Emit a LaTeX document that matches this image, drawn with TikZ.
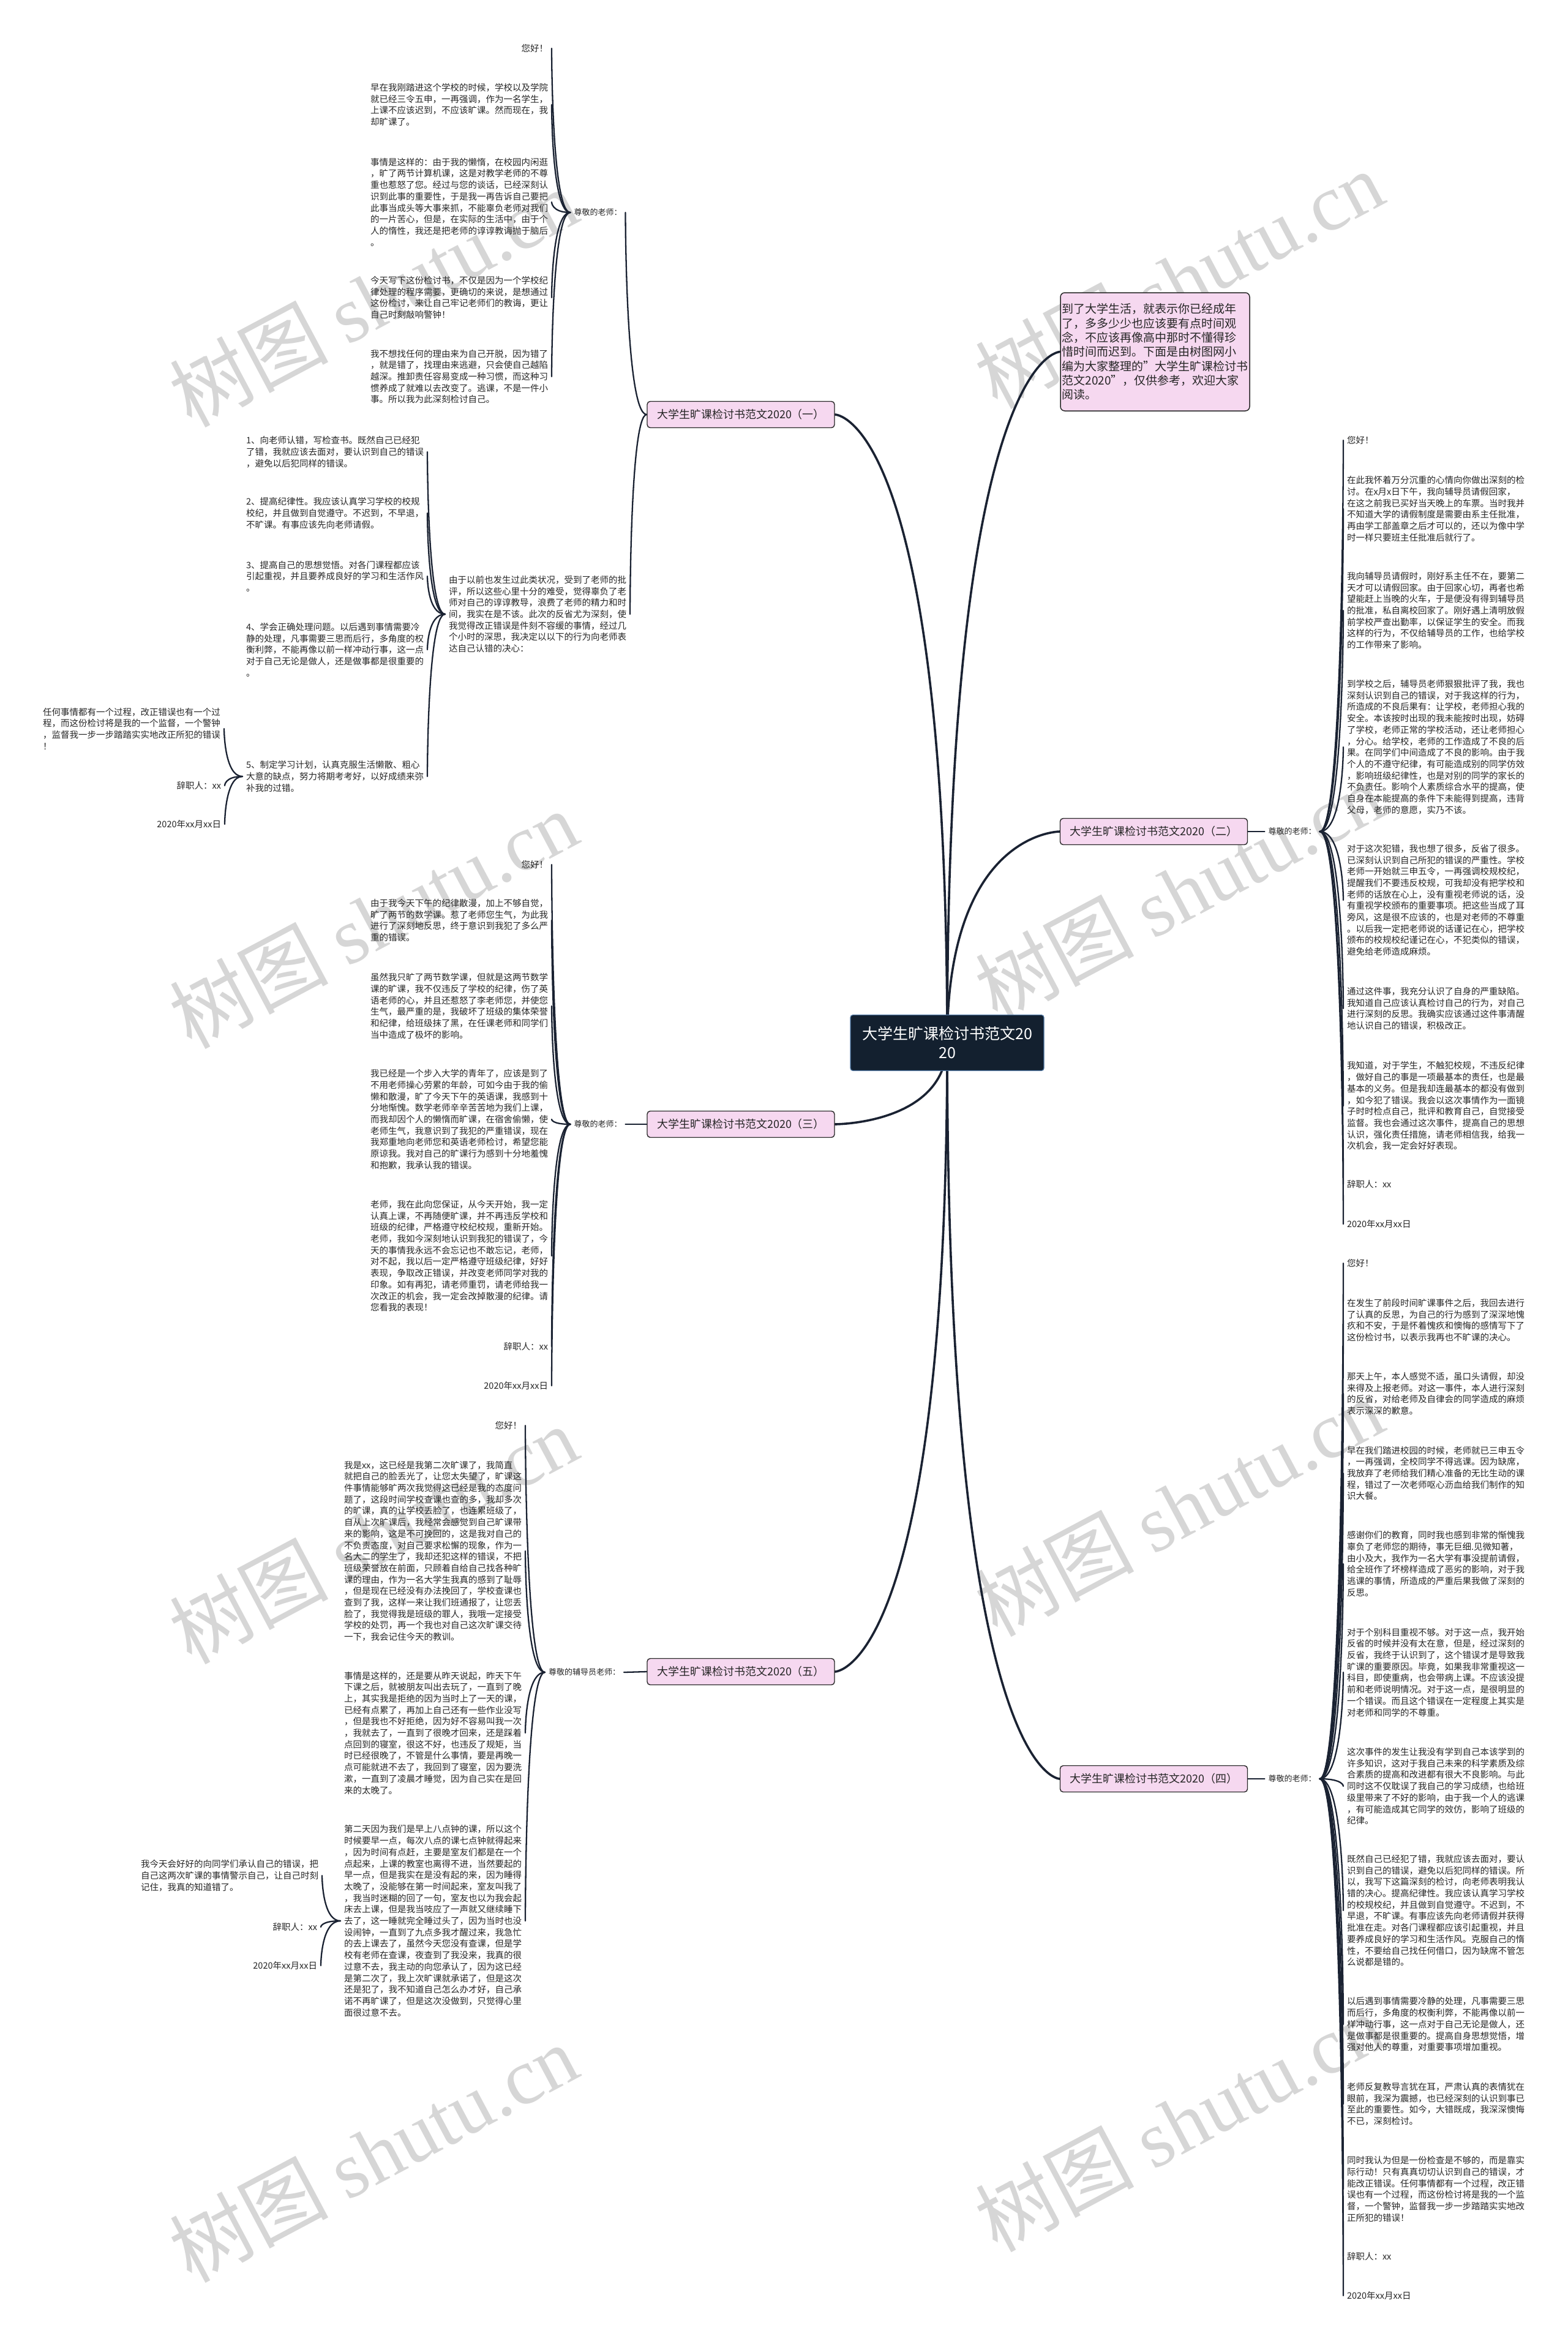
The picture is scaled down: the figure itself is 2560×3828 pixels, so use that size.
\documentclass[tikz,border=0pt]{standalone}
\usepackage{fontspec}
\setmainfont{Noto Sans CJK SC}
\newfontfamily\wmlat{Liberation Serif}
\usetikzlibrary{backgrounds}
\definecolor{lc}{RGB}{26,34,50}
\definecolor{pk}{RGB}{246,216,240}
\definecolor{bd}{RGB}{40,40,40}
\definecolor{tc}{RGB}{38,38,38}
\definecolor{ctrf}{RGB}{19,32,47}
\definecolor{ctrd}{RGB}{80,120,165}
\definecolor{wmc}{RGB}{214,214,214}
\newcommand\lfnt{\fontsize{14.5}{18.7}\selectfont}
\newcommand\labfnt{\fontsize{13}{15}\selectfont}
\newcommand\brfnt{\fontsize{18}{22}\selectfont}
\begin{document}
\begin{tikzpicture}[x=1pt,y=-1pt,
  leafnode/.style={font=\lfnt, text=tc, align=left, inner sep=0pt, outer xsep=6pt},
  labnode/.style={font=\labfnt, text=tc, inner sep=0pt, outer xsep=6pt},
  brbox/.style={draw=bd, fill=pk, line width=1.4pt, rounded corners=5pt, minimum width=306pt, minimum height=43pt, inner sep=0pt, font=\brfnt, text=tc},
  ctrbox/.style={draw=ctrd, fill=ctrf, line width=1.2pt, rounded corners=4pt, minimum width=316pt, minimum height=91pt, inner sep=0pt, align=center, text=white, font=\fontsize{25}{31}\selectfont},
  introbox/.style={draw=bd, fill=pk, line width=1.5pt, rounded corners=7pt, minimum width=309pt, minimum height=193pt, inner sep=0pt, align=left, text=tc, font=\fontsize{19}{23.3}\selectfont},
  wmark/.style={anchor=base west, rotate=28, text=wmc, inner sep=0pt, font=\fontsize{130}{130}\selectfont},
  mainln/.style={draw=lc, line width=3.6pt, line cap=round},
  subln/.style={draw=lc, line width=2.3pt, line cap=round}]
\useasboundingbox (0,0) rectangle (2560,3828);

% ---------- centre and first level ----------
\node[ctrbox] (c) at (1547,1703) {大学生旷课检讨书范文20\\20};
\node[introbox] (intro) at (1886.5,574.5) {到了大学生活，就表示你已经成年\\了，多多少少也应该要有点时间观\\念，不应该再像高中那时不懂得珍\\惜时间而迟到。下面是由树图网小\\编为大家整理的"大学生旷课检讨书\\范文2020"，仅供参考，欢迎大家\\阅读。};
\node[brbox] (b1) at (1210,677) {大学生旷课检讨书范文2020（一）};
\node[brbox] (b2) at (1884.5,1358) {大学生旷课检讨书范文2020（二）};
\node[brbox] (b3) at (1210,1836) {大学生旷课检讨书范文2020（三）};
\node[brbox] (b5) at (1210,2730) {大学生旷课检讨书范文2020（五）};
\node[brbox] (b4) at (1884.5,2905) {大学生旷课检讨书范文2020（四）};

% ---------- branch (一) ----------
\node[labnode] (l1) at (976.5,347) {尊敬的老师：};
\node[leafnode,anchor=east] (a0) at (901,79) {您好！};
\node[leafnode,anchor=west] (a1) at (599,171) {早在我刚踏进这个学校的时候，学校以及学院\\就已经三令五申，一再强调，作为一名学生，\\上课不应该迟到，不应该旷课。然而现在，我\\却旷课了。};
\node[leafnode,anchor=west] (a2) at (599,330) {事情是这样的：由于我的懒惰，在校园内闲逛\\，旷了两节计算机课，这是对教学老师的不尊\\重也惹怒了您。经过与您的谈话，已经深刻认\\识到此事的重要性，于是我一再告诉自己要把\\此事当成头等大事来抓，不能辜负老师对我们\\的一片苦心，但是，在实际的生活中，由于个\\人的惰性，我还是把老师的谆谆教诲抛于脑后\\。};
\node[leafnode,anchor=west] (a3) at (599,486) {今天写下这份检讨书，不仅是因为一个学校纪\\律处理的程序需要，更确切的来说，是想通过\\这份检讨，来让自己牢记老师们的教诲，更让\\自己时刻敲响警钟！};
\node[leafnode,anchor=west] (a4) at (599,615) {我不想找任何的理由来为自己开脱，因为错了\\，就是错了，找理由来逃避，只会使自己越陷\\越深。推卸责任容易变成一种习惯，而这种习\\惯养成了就难以去改变了。逃课，不是一件小\\事。所以我为此深刻检讨自己。};
\node[leafnode,anchor=west] (p1) at (727,1003) {由于以前也发生过此类状况，受到了老师的批\\评，所以这些心里十分的难受，觉得辜负了老\\师对自己的谆谆教导，浪费了老师的精力和时\\间，我实在是不该。此次的反省尤为深刻，使\\我觉得改正错误是件刻不容缓的事情，经过几\\个小时的深思，我决定以以下的行为向老师表\\达自己认错的决心：};
\node[leafnode,anchor=west] (q1) at (396,738) {1、向老师认错，写检查书。既然自己已经犯\\了错，我就应该去面对，要认识到自己的错误\\，避免以后犯同样的错误。};
\node[leafnode,anchor=west] (q2) at (396,838) {2、提高纪律性。我应该认真学习学校的校规\\校纪，并且做到自觉遵守。不迟到，不早退，\\不旷课。有事应该先向老师请假。};
\node[leafnode,anchor=west] (q3) at (396,941) {3、提高自己的思想觉悟。对各门课程都应该\\引起重视，并且要养成良好的学习和生活作风\\。};
\node[leafnode,anchor=west] (q4) at (396,1061) {4、学会正确处理问题。以后遇到事情需要冷\\静的处理，凡事需要三思而后行，多角度的权\\衡利弊，不能再像以前一样冲动行事，这一点\\对于自己无论是做人，还是做事都是很重要的\\。};
\node[leafnode,anchor=west] (q5) at (396,1268) {5、制定学习计划，认真克服生活懒散、粗心\\大意的缺点，努力将期考考好，以好成绩来弥\\补我的过错。};
\node[leafnode,anchor=west] (r1) at (64,1190) {任何事情都有一个过程，改正错误也有一个过\\程，而这份检讨将是我的一个监督，一个警钟\\，监督我一步一步踏踏实实地改正所犯的错误\\！};
\node[leafnode,anchor=east] (r2) at (367,1283) {辞职人：xx};
\node[leafnode,anchor=east] (r3) at (367,1346) {2020年xx月xx日};

% ---------- branch (二) ----------
\node[labnode] (l2) at (2110.5,1358) {尊敬的老师：};
\node[leafnode,anchor=west] (e0) at (2194,719) {您好！};
\node[leafnode,anchor=west] (e1) at (2194,831) {在此我怀着万分沉重的心情向你做出深刻的检\\讨。在x月x日下午，我向辅导员请假回家，\\在这之前我已买好当天晚上的车票。当时我并\\不知道大学的请假制度是需要由系主任批准，\\再由学工部盖章之后才可以的，还以为像中学\\时一样只要班主任批准后就行了。};
\node[leafnode,anchor=west] (e2) at (2194,997) {我向辅导员请假时，刚好系主任不在，要第二\\天才可以请假回家。由于回家心切，再者也希\\望能赶上当晚的火车，于是便没有得到辅导员\\的批准，私自离校回家了。刚好遇上清明放假\\前学校严查出勤率，以保证学生的安全。而我\\这样的行为，不仅给辅导员的工作，也给学校\\的工作带来了影响。};
\node[leafnode,anchor=west] (e3) at (2194,1220) {到学校之后，辅导员老师狠狠批评了我，我也\\深刻认识到自己的错误，对于我这样的行为，\\所造成的不良后果有：让学校，老师担心我的\\安全。本该按时出现的我未能按时出现，妨碍\\了学校，老师正常的学校活动，还让老师担心\\，分心。给学校，老师的工作造成了不良的后\\果。在同学们中间造成了不良的影响。由于我\\个人的不遵守纪律，有可能造成别的同学仿效\\，影响班级纪律性，也是对别的同学的家长的\\不负责任。影响个人素质综合水平的提高，使\\自身在本能提高的条件下未能得到提高，违背\\父母，老师的意愿，实乃不该。};
\node[leafnode,anchor=west] (e4) at (2194,1470) {对于这次犯错，我也想了很多，反省了很多。\\已深刻认识到自己所犯的错误的严重性。学校\\老师一开始就三申五令，一再强调校规校纪，\\提醒我们不要违反校规，可我却没有把学校和\\老师的话放在心上，没有重视老师说的话，没\\有重视学校颁布的重要事项。把这些当成了耳\\旁风，这是很不应该的，也是对老师的不尊重\\。以后我一定把老师说的话谨记在心，把学校\\颁布的校规校纪谨记在心，不犯类似的错误，\\避免给老师造成麻烦。};
\node[leafnode,anchor=west] (e5) at (2194,1647) {通过这件事，我充分认识了自身的严重缺陷。\\我知道自己应该认真检讨自己的行为，对自己\\进行深刻的反思。我确实应该通过这件事清醒\\地认识自己的错误，积极改正。};
\node[leafnode,anchor=west] (e6) at (2194,1806) {我知道，对于学生，不触犯校规，不违反纪律\\，做好自己的事是一项最基本的责任，也是最\\基本的义务。但是我却连最基本的都没有做到\\，如今犯了错误。我会以这次事情作为一面镜\\子时时检点自己，批评和教育自己，自觉接受\\监督。我也会通过这次事件，提高自己的思想\\认识，强化责任措施，请老师相信我，给我一\\次机会，我一定会好好表现。};
\node[leafnode,anchor=west] (e7) at (2194,1934) {辞职人：xx};
\node[leafnode,anchor=west] (e8) at (2194,1999) {2020年xx月xx日};

% ---------- branch (三) ----------
\node[labnode] (l3) at (976.5,1836) {尊敬的老师：};
\node[leafnode,anchor=east] (s0) at (901,1412) {您好！};
\node[leafnode,anchor=west] (s1) at (599,1503) {由于我今天下午的纪律散漫，加上不够自觉，\\旷了两节的数学课。惹了老师您生气，为此我\\进行了深刻地反思，终于意识到我犯了多么严\\重的错误。};
\node[leafnode,anchor=west] (s2) at (599,1643) {虽然我只旷了两节数学课，但就是这两节数学\\课的旷课，我不仅违反了学校的纪律，伤了英\\语老师的心，并且还惹怒了李老师您，并使您\\生气，最严重的是，我破坏了班级的集体荣誉\\和纪律，给班级抹了黑，在任课老师和同学们\\当中造成了极坏的影响。};
\node[leafnode,anchor=west] (s3) at (599,1828) {我已经是一个步入大学的青年了，应该是到了\\不用老师操心劳累的年龄，可如今由于我的偷\\懒和散漫，旷了今天下午的英语课，我感到十\\分地惭愧。数学老师辛辛苦苦地为我们上课，\\而我却因个人的懒惰而旷课，在宿舍偷懒，使\\老师生气，我意识到了我犯的严重错误，现在\\我郑重地向老师您和英语老师检讨，希望您能\\原谅我。我对自己的旷课行为感到十分地羞愧\\和抱歉，我承认我的错误。};
\node[leafnode,anchor=west] (s4) at (599,2051) {老师，我在此向您保证，从今天开始，我一定\\认真上课，不再随便旷课，并不再违反学校和\\班级的纪律，严格遵守校纪校规，重新开始。\\老师，我如今深刻地认识到我犯的错误了，今\\天的事情我永远不会忘记也不敢忘记，老师，\\对不起，我以后一定严格遵守班级纪律，好好\\表现，争取改正错误，并改变老师同学对我的\\印象。如有再犯，请老师重罚，请老师给我一\\次改正的机会，我一定会改掉散漫的纪律。请\\您看我的表现！};
\node[leafnode,anchor=east] (s5) at (901,2199) {辞职人：xx};
\node[leafnode,anchor=east] (s6) at (901,2263) {2020年xx月xx日};

% ---------- branch (五) ----------
\node[labnode] (l5) at (954.5,2731) {尊敬的辅导员老师：};
\node[leafnode,anchor=east] (f0) at (858,2328) {您好！};
\node[leafnode,anchor=west] (f1) at (556,2533) {我是xx，这已经是我第二次旷课了，我简直\\就把自己的脸丢光了，让您太失望了，旷课这\\件事情能够旷两次我觉得这已经是我的态度问\\题了，这段时间学校查课也查的多，我却多次\\的旷课，真的让学校丢脸了，也连累班级了，\\自从上次旷课后，我经常会感觉到自己旷课带\\来的影响，这是不可挽回的，这是我对自己的\\不负责态度，对自己要求松懈的现象，作为一\\名大二的学生了，我却还犯这样的错误，不把\\班级荣誉放在前面，只顾着自给自己找各种旷\\课的理由，作为一名大学生我真的感到了耻辱\\，但是现在已经没有办法挽回了，学校查课也\\查到了我，这样一来让我们班通报了，让您丢\\脸了，我觉得我是班级的罪人，我哦一定接受\\学校的处罚，再一个我也对自己这次旷课交待\\一下，我会记住今天的教训。};
\node[leafnode,anchor=west] (f2) at (556,2830) {事情是这样的，还是要从昨天说起，昨天下午\\下课之后，就被朋友叫出去玩了，一直到了晚\\上，其实我是拒绝的因为当时上了一天的课，\\已经有点累了，再加上自己还有一些作业没写\\，但是我也不好拒绝，因为好不容易叫我一次\\，我就去了，一直到了很晚才回来，还是踩着\\点回到的寝室，很这不好，也违反了规矩，当\\时已经很晚了，不管是什么事情，要是再晚一\\点可能就进不去了，我回到了寝室，因为要洗\\漱，一直到了凌晨才睡觉，因为自己实在是回\\来的太晚了。};
\node[leafnode,anchor=west] (f3) at (556,3137) {第二天因为我们是早上八点钟的课，所以这个\\时候要早一点，每次八点的课七点钟就得起来\\，因为时间有点赶，主要是室友们都是在一个\\点起来，上课的教室也离得不进，当然要起的\\早一点，但是我实在是没有起的来，因为睡得\\太晚了，没能够在第一时间起来，室友叫我了\\，我当时迷糊的回了一句，室友也以为我会起\\床去上课，但是我当吱应了一声就又继续睡下\\去了，这一睡就完全睡过头了，因为当时也没\\设闹钟，一直到了九点多我才醒过来，我急忙\\的去上课去了，虽然今天您没有查课，但是学\\校有老师在查课，夜查到了我没来，我真的很\\过意不去，我主动的向您承认了，因为这已经\\是第二次了，我上次旷课就承诺了，但是这次\\还是犯了，我不知道自己怎么办才好，自己承\\诺不再旷课了，但是这次没做到，只觉得心里\\面很过意不去。};
\node[leafnode,anchor=west] (g1) at (224,3063) {我今天会好好的向同学们承认自己的错误，把\\自己这两次旷课的事情警示自己，让自己时刻\\记住，我真的知道错了。};
\node[leafnode,anchor=east] (g2) at (524,3147) {辞职人：xx};
\node[leafnode,anchor=east] (g3) at (524,3210) {2020年xx月xx日};

% ---------- branch (四) ----------
\node[labnode] (l4) at (2110.5,2905) {尊敬的老师：};
\node[leafnode,anchor=west] (h0) at (2194,2063) {您好！};
\node[leafnode,anchor=west] (h1) at (2194,2156) {在发生了前段时间旷课事件之后，我回去进行\\了认真的反思，为自己的行为感到了深深地愧\\疚和不安，于是怀着愧疚和懊悔的感情写下了\\这份检讨书，以表示我再也不旷课的决心。};
\node[leafnode,anchor=west] (h2) at (2194,2276) {那天上午，本人感觉不适，虽口头请假，却没\\来得及上报老师。对这一事件，本人进行深刻\\的反省，对给老师及自律会的同学造成的麻烦\\表示深深的歉意。};
\node[leafnode,anchor=west] (h3) at (2194,2406) {早在我们踏进校园的时候，老师就已三申五令\\，一再强调，全校同学不得逃课。因为缺席，\\我放弃了老师给我们精心准备的无比生动的课\\程，错过了一次老师呕心沥血给我们制作的知\\识大餐。};
\node[leafnode,anchor=west] (h4) at (2194,2554) {感谢你们的教育，同时我也感到非常的惭愧我\\辜负了老师您的期待，事无巨细.见微知著，\\由小及大，我作为一名大学有事没提前请假，\\给全班作了坏榜样造成了恶劣的影响，对于我\\逃课的事情，所造成的严重后果我做了深刻的\\反思。};
\node[leafnode,anchor=west] (h5) at (2194,2731) {对于个别科目重视不够。对于这一点，我开始\\反省的时候并没有太在意，但是，经过深刻的\\反省，我终于认识到了，这个错误才是导致我\\旷课的重要原因。毕竟，如果我非常重视这一\\科目，即使重病，也会带病上课。不应该没提\\前和老师说明情况。对于这一点，是很明显的\\一个错误。而且这个错误在一定程度上其实是\\对老师和同学的不尊重。};
\node[leafnode,anchor=west] (h6) at (2194,2917) {这次事件的发生让我没有学到自己本该学到的\\许多知识，这对于我自己未来的科学素质及综\\合素质的提高和改进都有很大不良影响。与此\\同时这不仅耽误了我自己的学习成绩，也给班\\级里带来了不好的影响，由于我一个人的逃课\\，有可能造成其它同学的效仿，影响了班级的\\纪律。};
\node[leafnode,anchor=west] (h7) at (2194,3120) {既然自己已经犯了错，我就应该去面对，要认\\识到自己的错误，避免以后犯同样的错误。所\\以，我写下这篇深刻的检讨，向老师表明我认\\错的决心。提高纪律性。我应该认真学习学校\\的校规校纪，并且做到自觉遵守。不迟到，不\\早退，不旷课。有事应该先向老师请假并获得\\批准在走。对各门课程都应该引起重视，并且\\要养成良好的学习和生活作风。克服自己的惰\\性，不要给自己找任何借口，因为缺席不管怎\\么说都是错的。};
\node[leafnode,anchor=west] (h8) at (2194,3306) {以后遇到事情需要冷静的处理，凡事需要三思\\而后行，多角度的权衡利弊，不能再像以前一\\样冲动行事，这一点对于自己无论是做人，还\\是做事都是很重要的。提高自身思想觉悟，增\\强对他人的尊重，对重要事项增加重视。};
\node[leafnode,anchor=west] (h9) at (2194,3436) {老师反复教导言犹在耳，严肃认真的表情犹在\\眼前，我深为震撼，也已经深刻的认识到事已\\至此的重要性。如今，大错既成，我深深懊悔\\不已，深刻检讨。};
\node[leafnode,anchor=west] (h10) at (2194,3575) {同时我认为但是一份检查是不够的，而是靠实\\际行动！只有真真切切认识到自己的错误，才\\能改正错误。任何事情都有一个过程，改正错\\误也有一个过程，而这份检讨将是我的一个监\\督，一个警钟，监督我一步一步踏踏实实地改\\正所犯的错误！};
\node[leafnode,anchor=west] (h11) at (2194,3685) {辞职人：xx};
\node[leafnode,anchor=west] (h12) at (2194,3749) {2020年xx月xx日};

% ---------- background: watermark and connectors ----------
\begin{scope}[on background layer]
\fill[white] (0,0) rectangle (2560,3828);
\foreach \yy in {700,1715,2720,3730}
  \node[wmark] at (312,\yy) {树图 {\wmlat shutu.cn}};
\foreach \yy in {670,1670,2675,3680}
  \node[wmark] at (1628,\yy) {树图 {\wmlat shutu.cn}};
% main branches
\foreach \b in {b1,b3,b5}
  \draw[mainln] (c.center) .. controls (c.center |- \b.east) and (\b.east) .. (\b.east);
\foreach \b in {intro,b2,b4}
  \draw[mainln] (c.center) .. controls (c.center |- \b.west) and (\b.west) .. (\b.west);
% branch to label
\draw[subln] (b1.west) .. controls (l1.east |- b1.west) and (l1.east) .. (l1.east);
\draw[subln] (b1.west) .. controls (p1.east |- b1.west) and (p1.east) .. (p1.east);
\draw[subln] (b2.east) -- (l2.west);
\draw[subln] (b4.east) -- (l4.west);
\draw[subln] (b3.west) -- (l3.east);
\draw[subln] (b5.west) -- (l5.east);
% label to leaves (left side)
\foreach \n in {a0,a1,a2,a3,a4}
  \draw[subln] (l1.west) .. controls (\n.east |- l1.west) and (\n.east) .. (\n.east);
\foreach \n in {q1,q2,q3,q4,q5}
  \draw[subln] (p1.west) .. controls (\n.east |- p1.west) and (\n.east) .. (\n.east);
\foreach \n in {r1,r2,r3}
  \draw[subln] (q5.west) .. controls (\n.east |- q5.west) and (\n.east) .. (\n.east);
\foreach \n in {s0,s1,s2,s3,s4,s5,s6}
  \draw[subln] (l3.west) .. controls (\n.east |- l3.west) and (\n.east) .. (\n.east);
\foreach \n in {f0,f1,f2,f3}
  \draw[subln] (l5.west) .. controls (\n.east |- l5.west) and (\n.east) .. (\n.east);
\foreach \n in {g1,g2,g3}
  \draw[subln] (f3.west) .. controls (\n.east |- f3.west) and (\n.east) .. (\n.east);
% label to leaves (right side)
\foreach \n in {e0,e1,e2,e3,e4,e5,e6,e7,e8}
  \draw[subln] (l2.east) .. controls (\n.west |- l2.east) and (\n.west) .. (\n.west);
\foreach \n in {h0,h1,h2,h3,h4,h5,h6,h7,h8,h9,h10,h11,h12}
  \draw[subln] (l4.east) .. controls (\n.west |- l4.east) and (\n.west) .. (\n.west);
\end{scope}
\end{tikzpicture}
\end{document}
